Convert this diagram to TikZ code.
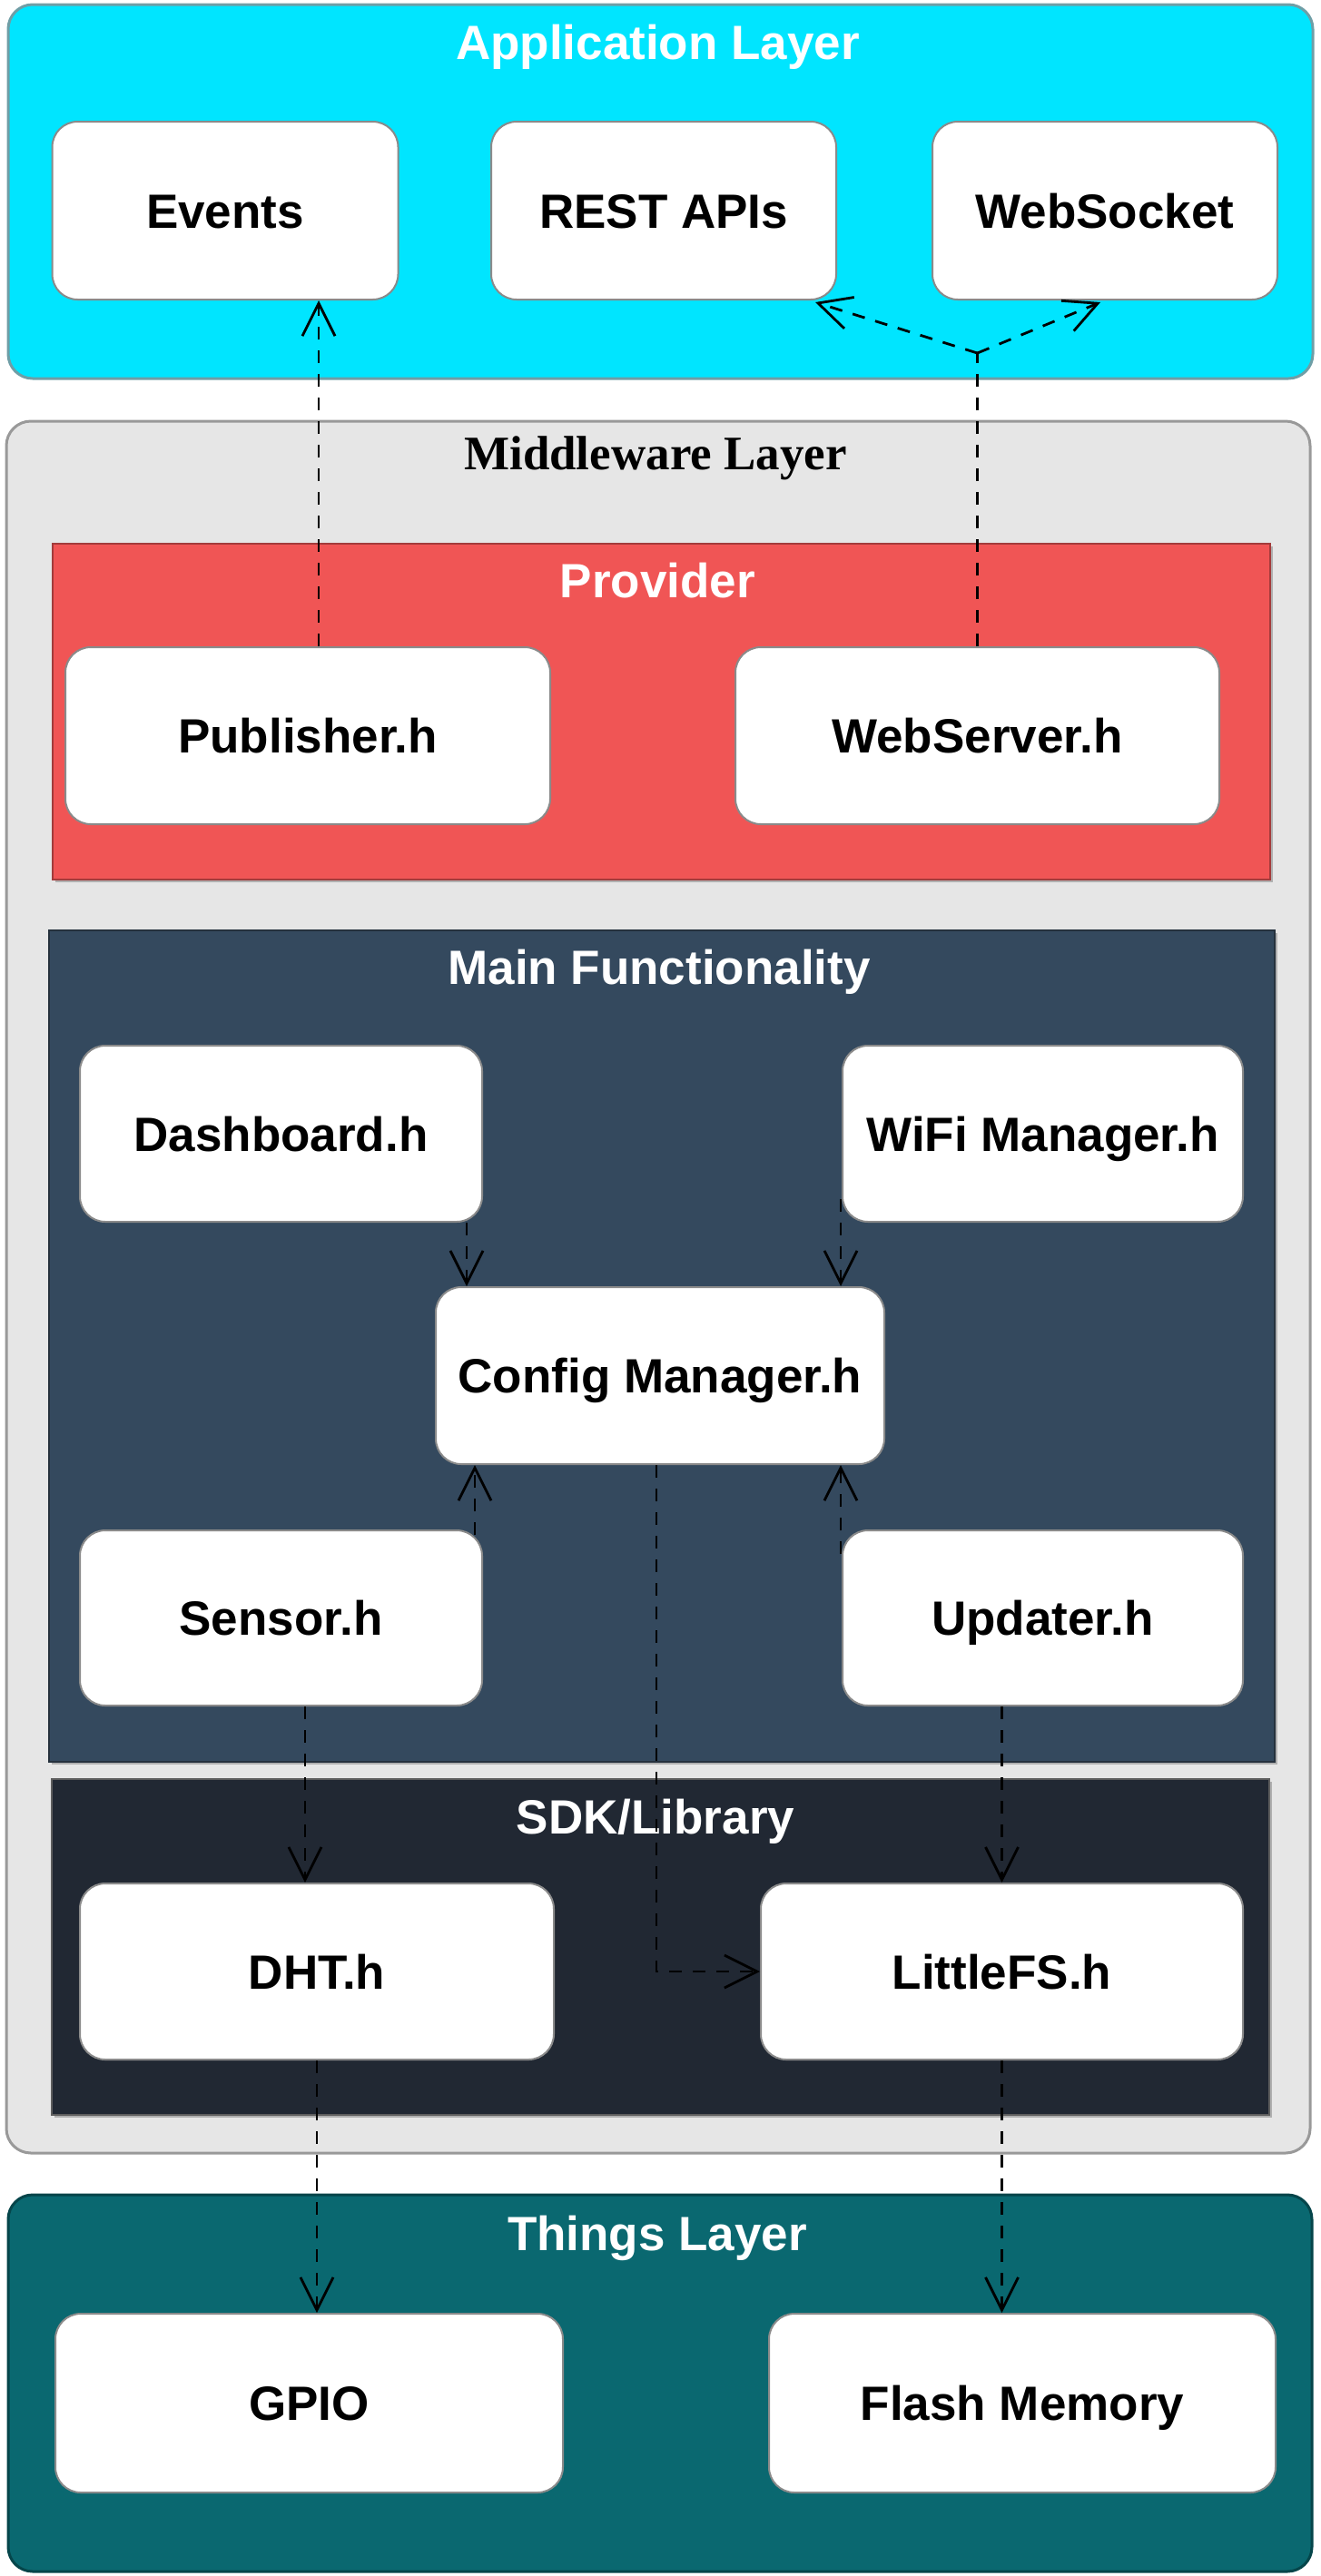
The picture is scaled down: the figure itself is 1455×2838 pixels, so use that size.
\documentclass[tikz,border=0pt]{standalone}
\usepackage{fontspec}
\setmainfont{Liberation Sans}
\newfontfamily\titleserif{Liberation Serif}
\usetikzlibrary{arrows.meta,calc,fit,shadows}
\definecolor{appfill}{HTML}{00E5FF}
\definecolor{appline}{HTML}{6F9EA6}
\definecolor{midfill}{HTML}{E6E6E6}
\definecolor{midline}{HTML}{999999}
\definecolor{provfill}{HTML}{F05555}
\definecolor{provline}{HTML}{A33B3B}
\definecolor{mainfill}{HTML}{34495E}
\definecolor{mainline}{HTML}{25313D}
\definecolor{sdkfill}{HTML}{212833}
\definecolor{sdkline}{HTML}{5E5E5E}
\definecolor{thfill}{HTML}{0A6870}
\definecolor{thline}{HTML}{05454A}
\definecolor{boxline}{HTML}{8A8A8A}
\tikzset{
  bigfont/.style={font=\fontsize{53}{60}\selectfont\bfseries},
  layerbox/.style={inner sep=0pt, line width=3pt, rounded corners=27pt},
  groupbox/.style={inner sep=0pt, line width=2.5pt,
    drop shadow={shadow xshift=3pt, shadow yshift=-3pt, fill=black!45, opacity=0.6}},
  box/.style={draw=boxline, line width=2pt, fill=white, rounded corners=28pt,
    inner sep=0pt, text height=38pt, text depth=0pt, bigfont},
  title/.style={anchor=base, text=white, bigfont},
  dline/.style={line width=2.8pt, dash pattern=on 14pt off 12pt},
  conn/.style={dline, -{Straight Barb[length=36pt,width=36pt]}},
}
\begin{document}
\begin{tikzpicture}[x=1pt,y=-1pt]
\useasboundingbox (0,0) rectangle (1455,2838);

% ---------- containers ----------
\node[layerbox, draw=appline, fill=appfill, fit={(9,5) (1446,417)}] (app) {};
\node[layerbox, draw=midline, fill=midfill, fit={(7,464) (1443,2372)}] (mid) {};
\node[groupbox, draw=provline, fill=provfill, fit={(58,599) (1399,969)}] (prov) {};
\node[groupbox, draw=mainline, fill=mainfill, fit={(54,1025) (1404,1941)}] (mainf) {};
\node[groupbox, draw=sdkline, fill=sdkfill, fit={(57,1960) (1398,2330)}] (sdk) {};
\node[layerbox, draw=thline, fill=thfill, fit={(9,2418) (1445,2833)}] (things) {};

% ---------- titles ----------
\node[title] (tapp) at (724.5,65) {Application Layer};
\node[anchor=base, text=black, font=\fontsize{53}{60}\selectfont\titleserif\bfseries] (tmid) at (722,517) {Middleware Layer};
\node[title] (tprov) at (724.5,658) {Provider};
\node[title] (tmain) at (726,1084) {Main Functionality};
\node[title] (tsdk) at (722,2020) {SDK/Library};
\node[title] (tth) at (724,2479) {Things Layer};

% ---------- boxes ----------
\node[box, minimum width=381pt, minimum height=196pt] (ev) at (248,232) {Events};
\node[box, minimum width=380pt, minimum height=196pt] (rest) at (731,232) {REST APIs};
\node[box, minimum width=380pt, minimum height=196pt] (ws) at (1217,232) {WebSocket};

\node[box, minimum width=534pt, minimum height=195pt] (pub) at (339,810.5) {Publisher.h};
\node[box, minimum width=533pt, minimum height=195pt] (wsrv) at (1076.5,810.5) {WebServer.h};

\node[box, minimum width=443pt, minimum height=194pt] (dash) at (309.5,1249) {Dashboard.h};
\node[box, minimum width=441pt, minimum height=194pt] (wifi) at (1148.5,1249) {WiFi Manager.h};
\node[box, minimum width=494pt, minimum height=195pt] (cfg) at (727,1515.5) {Config Manager.h};
\node[box, minimum width=443pt, minimum height=193pt] (sens) at (309.5,1782.5) {Sensor.h};
\node[box, minimum width=441pt, minimum height=193pt] (upd) at (1148.5,1782.5) {Updater.h};

\node[box, minimum width=522pt, minimum height=194pt] (dht) at (349,2172) {DHT.h};
\node[box, minimum width=531pt, minimum height=194pt] (lfs) at (1103.5,2172) {LittleFS.h};

\node[box, minimum width=559pt, minimum height=197pt] (gpio) at (340.5,2647.5) {GPIO};
\node[box, minimum width=558pt, minimum height=197pt] (flash) at (1126,2647.5) {Flash Memory};

% ---------- connectors ----------
\coordinate (c1) at ($(pub.north)+(12,0)$);
\draw[conn] (c1) -- (c1 |- ev.south);

\coordinate (split) at ($(wsrv.north)+(0,-323)$);
\draw[dline] (wsrv.north) -- (split);
\draw[conn] (split) -- ($(rest.south east)+(-24,2)$);
\draw[conn] (split) -- ($(ws.south)+(-5,2)$);

\coordinate (c3) at ($(dash.south east)+(-18,0)$);
\draw[conn] (c3) -- (c3 |- cfg.north);
\coordinate (c4) at ($(wifi.south west)+(-1,-26)$);
\draw[conn] (c4) -- (c4 |- cfg.north);

\coordinate (c5) at ($(sens.north east)+(-9,6)$);
\draw[conn] (c5) -- (c5 |- cfg.south);
\coordinate (c6) at ($(upd.north west)+(-1,27)$);
\draw[conn] (c6) -- (c6 |- cfg.south);

\coordinate (c7) at ($(cfg.south)+(-4,0)$);
\draw[conn] (c7) |- (lfs.west);

\coordinate (c8) at ($(sens.south)+(26.5,0)$);
\draw[conn] (c8) -- (c8 |- dht.north);
\draw[conn] (lfs.north |- upd.south) -- (lfs.north);

\draw[conn] (dht.south) -- (dht.south |- gpio.north);
\draw[conn] (lfs.south) -- (lfs.south |- flash.north);
\end{tikzpicture}
\end{document}
